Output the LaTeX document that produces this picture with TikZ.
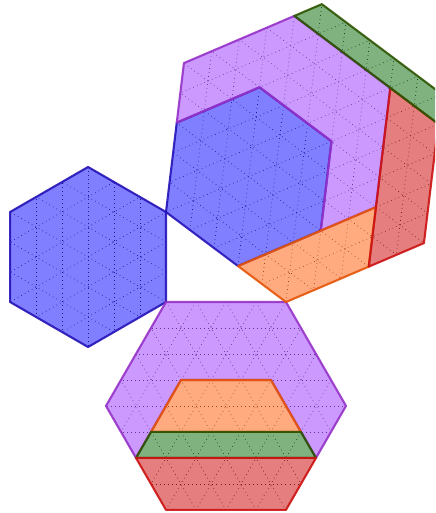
\documentclass[tikz,border=0pt]{standalone}
\usetikzlibrary{calc}

\definecolor{fillblue}{RGB}{0,0,255}
\definecolor{lineblue}{RGB}{38,20,184}
\definecolor{fillpurple}{RGB}{153,51,255}
\definecolor{linepurple}{RGB}{150,50,200}
\definecolor{fillorange}{RGB}{255,85,0}
\definecolor{lineorange}{RGB}{230,85,10}
\definecolor{fillgreen}{RGB}{0,102,0}
\definecolor{linegreen}{RGB}{45,85,0}
\definecolor{fillred}{RGB}{204,0,0}
\definecolor{linered}{RGB}{204,20,20}

\newcommand\rowh{0.866025}
% flat hexagon of side #1, top edge from (0,0) to (#1,0)
\newcommand\hexpath[1]{(0,0) -- (#1,0) -- ({1.5*#1},{-#1*\rowh}) -- (#1,{-2*#1*\rowh}) -- (0,{-2*#1*\rowh}) -- ({-0.5*#1},{-#1*\rowh}) -- cycle}
\newcommand\hexgrid[1]{%
  \begin{scope}
    \clip \hexpath{#1};
    \pgfmathtruncatemacro\nrows{2*#1}
    \pgfmathtruncatemacro\nlo{-2*#1}
    \pgfmathtruncatemacro\nhi{3*#1}
    \foreach \k in {1,...,\nrows}
      \draw[gridline] (-#1,-\k*\rowh) -- (2*#1,-\k*\rowh);
    \foreach \i in {\nlo,...,\nhi}
      \draw[gridline] (\i,0) -- +(240:\nrows) (\i,0) -- +(300:\nrows);
  \end{scope}}

\begin{document}
\begin{tikzpicture}[
  gridline/.style={draw=black!80,line width=0.65pt,dash pattern=on 0.65pt off 3.2pt},
  piece/.style={line width=2pt,line join=round,fill opacity=0.5,draw opacity=0.9},
  bluepc/.style={piece,fill=fillblue,draw=lineblue},
  purplepc/.style={piece,fill=fillpurple,draw=linepurple},
  orangepc/.style={piece,fill=fillorange,draw=lineorange},
  greenpc/.style={piece,fill=fillgreen,draw=linegreen},
  redpc/.style={piece,fill=fillred,draw=linered}]
  \useasboundingbox (-5.533,-7.033) rectangle (8.967,10.067);
  \clip (-5.533,-7.033) rectangle (8.967,10.067);

  % right triangle 3-4-5
  \coordinate (Q) at (0,0);
  \coordinate (P) at (0,3);
  \coordinate (R) at (4,0);

  % side QP
  \begin{scope}[shift={(P)},rotate=-90]
    \hexgrid{3}
    \draw[bluepc] \hexpath{3};
  \end{scope}

  % side QR
  \begin{scope}[shift={(Q)}]
    \hexgrid{4}
    \draw[purplepc] (0,0) -- (4,0) -- (6,-4*\rowh) -- (5,-6*\rowh) -- (4.5,-5*\rowh) -- (3.5,-3*\rowh)
      -- (0.5,-3*\rowh) -- (-0.5,-5*\rowh) -- (-1,-6*\rowh) -- (-2,-4*\rowh) -- cycle;
    \draw[orangepc] (-0.5,-5*\rowh) -- (4.5,-5*\rowh) -- (3.5,-3*\rowh) -- (0.5,-3*\rowh) -- cycle;
    \draw[greenpc] (-1,-6*\rowh) -- (5,-6*\rowh) -- (4.5,-5*\rowh) -- (-0.5,-5*\rowh) -- cycle;
    \draw[redpc] (0,-8*\rowh) -- (4,-8*\rowh) -- (5,-6*\rowh) -- (-1,-6*\rowh) -- cycle;
  \end{scope}

  % side RP
  \begin{scope}[shift={(R)},rotate=143.13]
    \hexgrid{5}
    \draw[bluepc] (2,0) -- (5,0) -- (6.5,-3*\rowh) -- (5,-6*\rowh) -- (2,-6*\rowh) -- (0.5,-3*\rowh) -- cycle;
    \draw[purplepc] (6.5,-3*\rowh) -- (7.5,-5*\rowh) -- (5.5,-9*\rowh) -- (1.5,-9*\rowh) -- (-0.5,-5*\rowh)
      -- (0.5,-3*\rowh) -- (2,-6*\rowh) -- (5,-6*\rowh) -- cycle;
    \draw[orangepc] (0,0) -- (2,0) -- (-0.5,-5*\rowh) -- (-1.5,-3*\rowh) -- cycle;
    \draw[redpc] (-1.5,-3*\rowh) -- (1.5,-9*\rowh) -- (-0.5,-9*\rowh) -- (-2.5,-5*\rowh) -- cycle;
    \draw[greenpc] (0,-10*\rowh) -- (5,-10*\rowh) -- (5.5,-9*\rowh) -- (-0.5,-9*\rowh) -- cycle;
  \end{scope}
\end{tikzpicture}
\end{document}
